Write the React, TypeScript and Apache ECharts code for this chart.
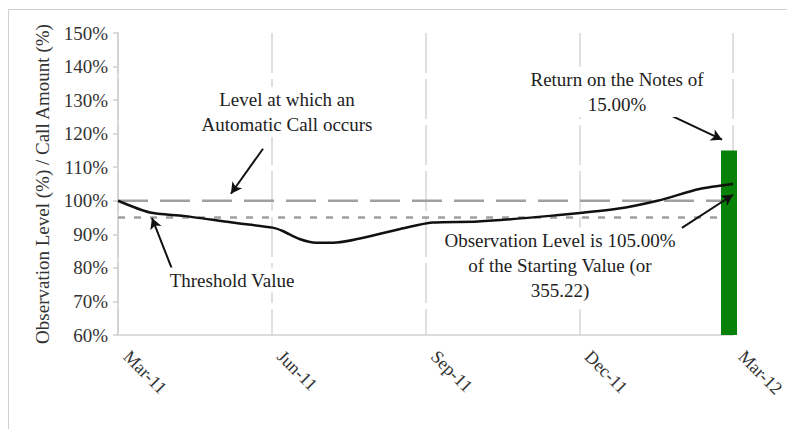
import React, { useEffect, useRef } from "react";
import * as echarts from "echarts";

// Days since 1 Mar 2011 and observation level (%)
const DAYS = [0, 19, 39, 68, 92, 98, 108, 118, 128, 168, 187, 214, 257, 297, 321, 346, 366];
const LEVEL = [100, 96.5, 95.5, 93.5, 92, 91, 88.6, 87.5, 87.5, 91.6, 93.5, 93.8, 95.5, 97.6, 100, 103.5, 105];
const TICK_LABELS = ["Mar-11", "Jun-11", "Sep-11", "Dec-11", "Mar-12"];
const CALL_LEVEL = 100;
const THRESHOLD = 95;
const RETURN_DAY = 366;
const RETURN_VALUE = 115;
const X_MAX = 366;
const Y_MIN = 60;
const Y_MAX = 150;

const FONT = "'Liberation Serif', 'Times New Roman', serif";

export default function App() {
  const ref = useRef<HTMLDivElement>(null);
  useEffect(() => {
    const chart = echarts.init(ref.current!, null, { renderer: "svg" });
    const lineData = DAYS.map((d, i) => [d, LEVEL[i]]);
    const arrowStyle = { color: "#111", width: 2, type: "solid" };
    const textStyleBase = {
      fontSize: 19,
      fontFamily: FONT,
      fill: "#222",
      align: "center",
      verticalAlign: "middle",
      lineHeight: 25,
      backgroundColor: "#fff",
    };
    chart.setOption({
      animation: false,
      textStyle: { fontFamily: FONT },
      grid: { left: 118, right: 54, top: 33, bottom: 94, containLabel: false, outerBoundsMode: "none" },
      xAxis: {
        type: "value",
        min: 0,
        max: X_MAX,
        interval: X_MAX / 4,
        axisLine: { show: true, lineStyle: { color: "#cfcfcf", width: 1.5 } },
        axisTick: { show: false },
        splitLine: { show: true, lineStyle: { color: "#d6d6d6", width: 1.5, type: [40, 6] } },
        axisLabel: {
          rotate: -45,
          margin: 10,
          padding: [0, 0, 0, 12],
          fontSize: 18,
          color: "#333",
          fontFamily: FONT,
          formatter: (v: number) => TICK_LABELS[Math.round(v / (X_MAX / 4))] ?? "",
        },
      },
      yAxis: {
        type: "value",
        min: Y_MIN,
        max: Y_MAX,
        interval: 10,
        name: "Observation Level (%) / Call Amount (%)",
        nameLocation: "middle",
        nameGap: 66,
        nameTextStyle: { fontSize: 19, color: "#333", fontFamily: FONT },
        axisLine: { show: true, lineStyle: { color: "#cfcfcf", width: 1.5 } },
        axisTick: { show: true, length: 5, lineStyle: { color: "#cfcfcf", width: 1.5 } },
        splitLine: { show: false },
        axisLabel: { fontSize: 19, color: "#333", margin: 10, fontFamily: FONT, formatter: "{value}%" },
      },
      series: [
        {
          type: "line",
          data: [[0, CALL_LEVEL], [X_MAX, CALL_LEVEL]],
          symbol: "none",
          lineStyle: { color: "#a0a0a0", width: 2.5, type: [30, 12] },
          z: 1,
          silent: true,
        },
        {
          type: "line",
          data: [[0, THRESHOLD], [X_MAX, THRESHOLD]],
          symbol: "none",
          lineStyle: { color: "#a0a0a0", width: 2.5, type: [7, 9] },
          z: 1,
          silent: true,
        },
        {
          type: "custom",
          data: [[RETURN_DAY, RETURN_VALUE]],
          z: 2,
          silent: true,
          renderItem: (params: any, api: any) => {
            const top = api.coord([api.value(0), api.value(1)]);
            const bottom = api.coord([api.value(0), Y_MIN]);
            return {
              type: "rect",
              shape: { x: top[0] - 12, y: top[1], width: 16, height: bottom[1] - top[1] },
              style: { fill: "#078107" },
            };
          },
        },
        {
          type: "line",
          data: lineData,
          symbol: "none",
          smooth: 0.25,
          clip: false,
          lineStyle: { color: "#111", width: 2.5 },
          z: 3,
          silent: true,
          markLine: {
            silent: true,
            symbol: ["none", "arrow"],
            symbolSize: [9, 11],
            label: { show: false },
            lineStyle: arrowStyle,
            data: [
              [{ coord: [86.3, 115.5] }, { coord: [67.2, 102.1] }],
              [{ coord: [32.1, 79.7] }, { coord: [20.2, 94.9] }],
              [{ coord: [326.7, 126.0] }, { coord: [359.5, 118.2] }],
              [{ coord: [335.6, 91.9] }, { coord: [366, 101.8] }],
            ],
          },
        },
      ],
      graphic: [
        {
          type: "rect",
          silent: true,
          z: -10,
          shape: { x: 8.5, y: 9.5, width: 820, height: 440 },
          style: { fill: "none", stroke: "#d0d0d0", lineWidth: 1 },
        },
        {
          type: "text",
          z: 10,
          x: 287,
          y: 112,
          style: { ...textStyleBase, text: "Level at which an\nAutomatic Call occurs" },
        },
        {
          type: "text",
          z: 10,
          x: 232,
          y: 280,
          style: { ...textStyleBase, text: "Threshold Value" },
        },
        {
          type: "text",
          z: 10,
          x: 617,
          y: 92,
          style: { ...textStyleBase, text: "Return on the Notes of\n15.00%" },
        },
        {
          type: "text",
          z: 10,
          x: 560,
          y: 265,
          style: { ...textStyleBase, text: "Observation Level is 105.00%\nof the Starting Value (or\n355.22)" },
        },
      ],
    });
    return () => chart.dispose();
  }, []);
  return (
    <div
      ref={ref}
      style={{ position: "fixed", left: 0, top: 0, width: 787, height: 429, background: "#fff" }}
    />
  );
}
